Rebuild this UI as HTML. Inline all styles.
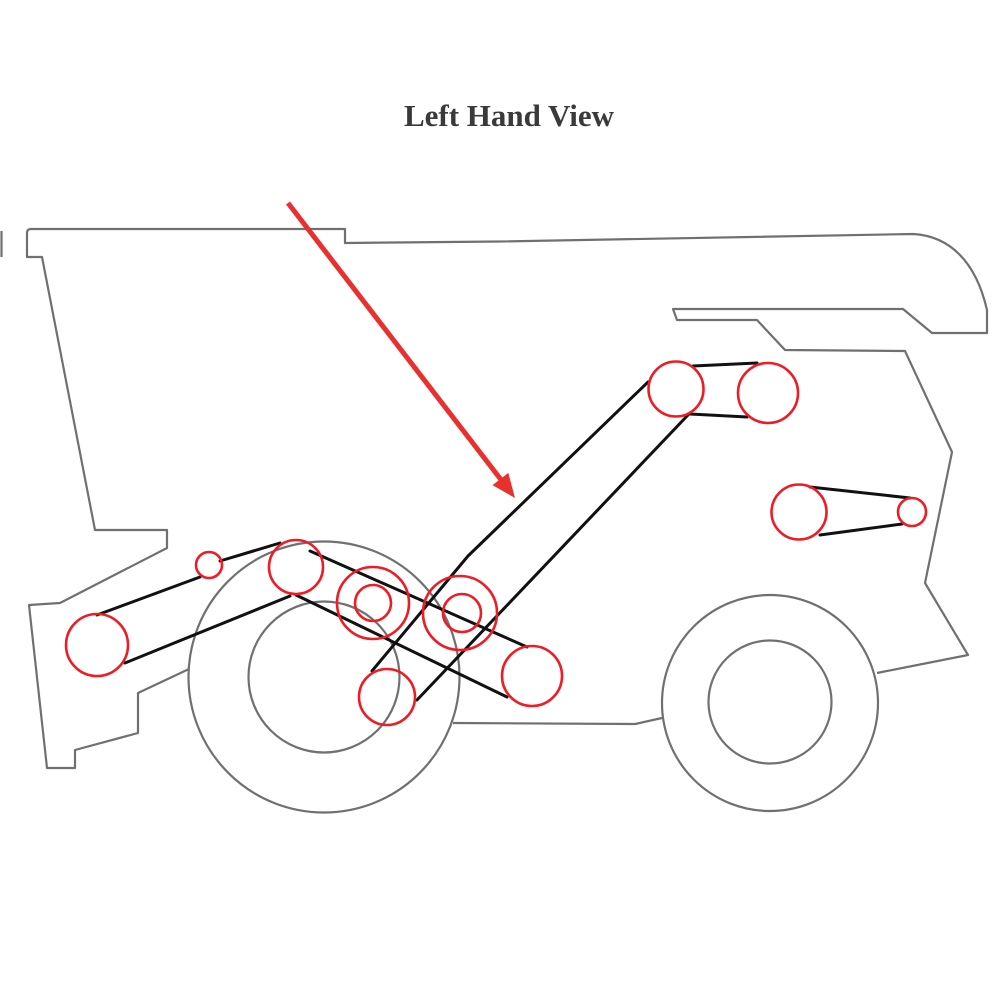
<!DOCTYPE html>
<html>
<head>
<meta charset="utf-8">
<style>
  html,body{margin:0;padding:0;background:#fff;}
  svg{display:block;}
</style>
</head>
<body>
<svg width="1000" height="1000" viewBox="0 0 1000 1000" xmlns="http://www.w3.org/2000/svg">
  <rect width="1000" height="1000" fill="#fff"/>
  <text x="509" y="126" text-anchor="middle" font-family="'Liberation Serif', serif" font-weight="bold" font-size="31" fill="#3a3a3a">Left Hand View</text>

  <g fill="none" stroke="#707070" stroke-width="2.2" stroke-linejoin="round">
    <!-- left edge mark -->
    <line x1="1.5" y1="231" x2="1.5" y2="257"/>
    <!-- upper body outline -->
    <path d="M189,669 L138,693 L138,733 L75,750 L75,768 L47,768 L29,605 L60,603 L167,548 L167,530 L95,530 L42,257 L27,257 L27,233 Q27,229 31,229 L345,229 L345,243 L500,241.5 L913,234 C950,236 976,262 987,310 L987,333 L932,333 L903,309 L673,309 L677,320 L757,320 L785,350 L905,351 L952,452 L925,583 L968,655 L877,673"/>
    <!-- lower body line between wheels -->
    <path d="M453,723 L635,724 L662,718"/>
    <!-- front wheel -->
    <circle cx="324" cy="677" r="135.5"/>
    <circle cx="324" cy="677" r="75.5"/>
    <!-- rear wheel -->
    <circle cx="770" cy="703" r="108"/>
    <circle cx="770" cy="702" r="61.5"/>
  </g>

  <!-- belts -->
  <g fill="none" stroke="#111" stroke-width="3" stroke-linecap="round" stroke-linejoin="round">
    <line x1="97" y1="615" x2="200" y2="577"/>
    <line x1="220" y1="561" x2="280" y2="543"/>
    <line x1="125" y1="663" x2="290" y2="596"/>
    <line x1="310" y1="551" x2="527" y2="647"/>
    <line x1="296" y1="595" x2="507" y2="697"/>
    <polyline points="648,382 468,556 372,671"/>
    <line x1="688" y1="415" x2="417" y2="700"/>
    <line x1="693" y1="366" x2="757" y2="363"/>
    <line x1="690" y1="414" x2="747" y2="417"/>
    <line x1="810" y1="487" x2="910" y2="498"/>
    <line x1="820" y1="535" x2="902" y2="524"/>
  </g>

  <!-- pulleys -->
  <g fill="none" stroke="#ee1c24" stroke-width="2.6">
    <circle cx="97" cy="645" r="31"/>
    <circle cx="209" cy="565" r="13"/>
    <circle cx="296" cy="567" r="27"/>
    <circle cx="373" cy="603" r="36"/>
    <circle cx="373" cy="603" r="18"/>
    <circle cx="460" cy="613" r="37"/>
    <circle cx="462" cy="613" r="19"/>
    <circle cx="387" cy="697" r="28"/>
    <circle cx="532" cy="676" r="30"/>
    <circle cx="676" cy="389" r="27.5"/>
    <circle cx="768" cy="393" r="30"/>
    <circle cx="799" cy="512" r="27.5"/>
    <circle cx="912" cy="512" r="14"/>
  </g>

  <!-- red arrow -->
  <line x1="288" y1="203" x2="502" y2="481" stroke="#e8302f" stroke-width="5" stroke-linecap="butt"/>
  <polygon points="515,498 492.5,485.1 508.3,472.9" fill="#e8302f"/>
</svg>
</body>
</html>
